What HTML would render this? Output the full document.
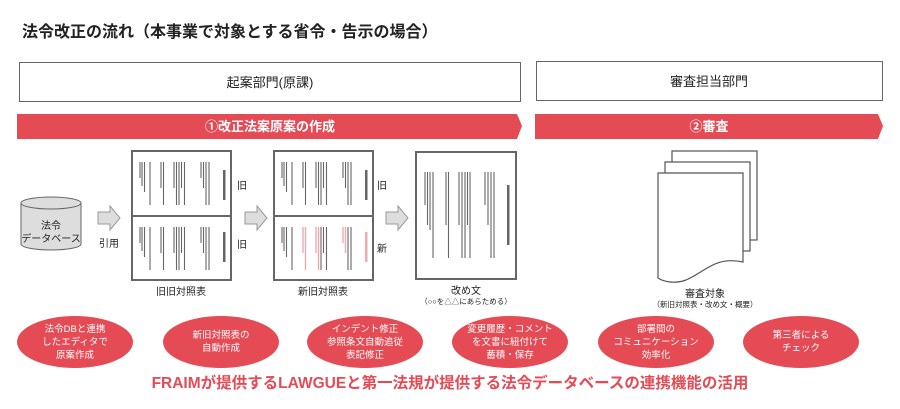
<!DOCTYPE html>
<html><head><meta charset="utf-8"><style>
body{margin:0;background:#fff;}
svg{display:block;font-family:"Liberation Sans","Noto Sans CJK JP",sans-serif;}
</style></head><body>
<svg width="900" height="409" viewBox="0 0 900 409" xmlns="http://www.w3.org/2000/svg">
<text x="22" y="37" font-size="16" font-weight="bold" fill="#222">法令改正の流れ（本事業で対象とする省令・告示の場合）</text>
<rect x="19.5" y="62.5" width="501" height="39" fill="#fff" stroke="#666"/>
<text x="270" y="87" font-size="13" text-anchor="middle" fill="#222">起案部門(原課)</text>
<rect x="536.5" y="61.5" width="346" height="39" fill="#fff" stroke="#666"/>
<text x="709" y="86" font-size="13" text-anchor="middle" fill="#222">審査担当部門</text>
<polygon points="17,114 517,114 522,126 517,139 17,139" fill="#e54b55"/>
<text x="270" y="131" font-size="13" font-weight="bold" text-anchor="middle" fill="#fff">①改正法案原案の作成</text>
<polygon points="535,114 878,114 883,126 878,139 535,139" fill="#e54b55"/>
<text x="709" y="131" font-size="13" font-weight="bold" text-anchor="middle" fill="#fff">②審査</text>

<path d="M21,203 L21,244 A30,6 0 0 0 81,244 L81,203" fill="#ddd" stroke="#666"/>
<ellipse cx="51" cy="203" rx="30" ry="6" fill="#ddd" stroke="#666"/>
<text x="51" y="229" font-size="10" text-anchor="middle" fill="#222">法令</text>
<text x="51" y="242" font-size="10" text-anchor="middle" fill="#222">データベース</text>
<g fill="#ddd" stroke="#999">
<polygon points="98,212 110,212 110,206 120,218 110,230 110,224 98,224"/>
<polygon points="245,212 257,212 257,206 267,218 257,230 257,224 245,224"/>
<polygon points="386,212 398,212 398,206 408,218 398,230 398,224 386,224"/>
</g>
<text x="99" y="247" font-size="10" fill="#222">引用</text>

<defs>
<g id="half" stroke="#666" stroke-width="1.1">
<line x1="140" y1="0" x2="140" y2="16"/><line x1="142" y1="0" x2="142" y2="24"/><line x1="144.5" y1="0" x2="144.5" y2="30"/><line x1="150" y1="0" x2="150" y2="43"/>
<line x1="161" y1="0" x2="161" y2="26"/><line x1="163.5" y1="0" x2="163.5" y2="43"/>
<line x1="174" y1="0" x2="174" y2="26"/><line x1="176.5" y1="0" x2="176.5" y2="43"/><line x1="179" y1="0" x2="179" y2="43"/><line x1="181.5" y1="0" x2="181.5" y2="26"/><line x1="184.5" y1="0" x2="184.5" y2="43"/>
<line x1="201" y1="0" x2="201" y2="16"/><line x1="203.5" y1="0" x2="203.5" y2="26"/><line x1="206" y1="0" x2="206" y2="43"/><line x1="209" y1="0" x2="209" y2="43"/>
</g>
</defs>
<rect x="132" y="151" width="99" height="129" fill="#fff" stroke="#666" stroke-width="2"/>
<line x1="132" y1="216" x2="231" y2="216" stroke="#666" stroke-width="2"/>
<use href="#half" transform="translate(0,162)"/>
<use href="#half" transform="translate(0,227)"/>
<rect x="223" y="170" width="2.5" height="30" fill="#666"/>
<rect x="223" y="232" width="2.5" height="30" fill="#666"/>
<text x="237" y="189" font-size="10" fill="#222">旧</text>
<text x="237" y="248" font-size="10" fill="#222">旧</text>
<text x="181" y="295" font-size="10" text-anchor="middle" fill="#222">旧旧対照表</text>

<rect x="274" y="151" width="99" height="129" fill="#fff" stroke="#666" stroke-width="2"/>
<line x1="274" y1="216" x2="373" y2="216" stroke="#666" stroke-width="2"/>
<use href="#half" transform="translate(142,162)"/>
<use href="#half" transform="translate(142,227)"/>
<g stroke="#f2a8ae" stroke-width="1.2">
<line x1="303" y1="227" x2="303" y2="253"/><line x1="305.5" y1="227" x2="305.5" y2="270"/>
<line x1="316" y1="227" x2="316" y2="253"/><line x1="318.5" y1="227" x2="318.5" y2="270"/>
<line x1="343" y1="227" x2="343" y2="243"/><line x1="345.5" y1="227" x2="345.5" y2="253"/>
</g>
<rect x="365" y="170" width="2.5" height="30" fill="#666"/>
<rect x="365" y="232" width="2.5" height="30" fill="#f2a8ae"/>
<text x="377" y="189" font-size="10" fill="#222">旧</text>
<text x="377" y="252" font-size="10" fill="#222">新</text>
<text x="323" y="295" font-size="10" text-anchor="middle" fill="#222">新旧対照表</text>

<rect x="416" y="152" width="100" height="127" fill="#fff" stroke="#666" stroke-width="2"/>
<g stroke="#666" stroke-width="1.1">
<line x1="425" y1="172" x2="425" y2="205"/><line x1="427.5" y1="172" x2="427.5" y2="225"/><line x1="430" y1="172" x2="430" y2="230"/><line x1="433" y1="172" x2="433" y2="258"/>
<line x1="446" y1="172" x2="446" y2="225"/><line x1="448.5" y1="172" x2="448.5" y2="258"/>
<line x1="459" y1="172" x2="459" y2="225"/><line x1="462" y1="172" x2="462" y2="258"/><line x1="465" y1="172" x2="465" y2="258"/><line x1="467.5" y1="172" x2="467.5" y2="225"/><line x1="470" y1="172" x2="470" y2="258"/>
<line x1="485" y1="172" x2="485" y2="205"/><line x1="488" y1="172" x2="488" y2="225"/><line x1="491" y1="172" x2="491" y2="258"/><line x1="494" y1="172" x2="494" y2="258"/>
</g>
<rect x="507" y="185" width="2.5" height="60" fill="#666"/>
<text x="466" y="294" font-size="10" text-anchor="middle" fill="#222">改め文</text>
<text x="466" y="304" font-size="7.5" text-anchor="middle" fill="#222">（○○を△△にあらためる）</text>

<g fill="#fff" stroke="#555" stroke-width="1.2">
<rect x="672" y="151" width="85" height="89"/>
<rect x="665" y="162" width="85" height="89"/>
<path d="M658,173 L743,173 L743,262 C715,256 705,272 686,280 C675,284 664,282 658,278 Z"/>
</g>
<text x="705" y="297" font-size="10" text-anchor="middle" fill="#222">審査対象</text>
<text x="705" y="307" font-size="7.5" text-anchor="middle" fill="#222">（新旧対照表・改め文・概要）</text>

<g fill="#e54b55">
<ellipse cx="75" cy="342" rx="58" ry="26"/>
<ellipse cx="221" cy="342" rx="58" ry="26"/>
<ellipse cx="365" cy="342" rx="58" ry="26"/>
<ellipse cx="510" cy="342" rx="58" ry="26"/>
<ellipse cx="656" cy="342" rx="58" ry="26"/>
<ellipse cx="801" cy="342" rx="58" ry="26"/>
</g>
<g font-size="9.5" fill="#fff" text-anchor="middle">
<text x="75" y="332">法令DBと連携</text><text x="75" y="345">したエディタで</text><text x="75" y="358">原案作成</text>
<text x="221" y="338">新旧対照表の</text><text x="221" y="351">自動作成</text>
<text x="365" y="332">インデント修正</text><text x="365" y="345">参照条文自動追従</text><text x="365" y="358">表記修正</text>
<text x="510" y="332">変更履歴・コメント</text><text x="510" y="345">を文書に紐付けて</text><text x="510" y="358">蓄積・保存</text>
<text x="656" y="332">部署間の</text><text x="656" y="345">コミュニケーション</text><text x="656" y="358">効率化</text>
<text x="801" y="338">第三者による</text><text x="801" y="351">チェック</text>
</g>
<text x="450" y="388" font-size="15.5" font-weight="bold" text-anchor="middle" fill="#e54b55">FRAIMが提供するLAWGUEと第一法規が提供する法令データベースの連携機能の活用</text>
</svg>
</body></html>
